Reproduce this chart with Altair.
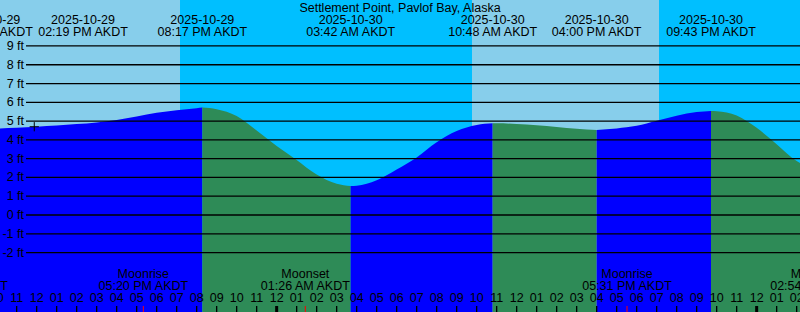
import altair as alt
import pandas as pd

# hours since 2025-10-29 12:00 PM AKDT
tide_h = [-2, -1, 0, 1, 2, 3, 4, 5, 6, 7, 8, 8.283, 9, 10, 11, 12, 13, 14, 15, 15.7,
          16, 17, 18, 19, 20, 21, 22, 22.8, 23, 24, 25, 26, 27, 28, 29, 30, 31, 32, 33,
          33.717, 34, 35, 36, 37, 38, 38.3]
tide_ft = [4.60, 4.64, 4.70, 4.76, 4.84, 4.93, 5.06, 5.24, 5.44, 5.58, 5.69, 5.72, 5.63,
           5.27, 4.50, 3.68, 2.93, 2.15, 1.66, 1.54, 1.56, 1.85, 2.42, 3.06, 3.87, 4.47,
           4.79, 4.88, 4.88, 4.85, 4.78, 4.69, 4.59, 4.53, 4.61, 4.75, 5.02, 5.29, 5.48,
           5.54, 5.53, 5.30, 4.64, 3.77, 2.87, 2.70]

# water colour changes at these high / low events
turn_h = [8.283, 15.7, 22.8, 28.0, 33.717]

# sky bands (day / night)
sky_start = [-3, 7.167, 21.767, 31.117]
sky_end = [7.167, 21.767, 31.117, 40]
sky_kind = ["day", "night", "day", "night"]

# tide event labels on top
ev_h = [-2.417, 2.317, 8.283, 15.7, 22.8, 28.0, 33.717]
ev_date = ["2025-10-29", "2025-10-29", "2025-10-29", "2025-10-30", "2025-10-30",
           "2025-10-30", "2025-10-30"]
ev_time = ["09:35 AM AKDT", "02:19 PM AKDT", "08:17 PM AKDT", "03:42 AM AKDT",
           "10:48 AM AKDT", "04:00 PM AKDT", "09:43 PM AKDT"]

# moon events
moon_h = [-3.667, 5.333, 13.433, 29.517, 38.9]
moon_kind = ["Moonset", "Moonrise", "Moonset", "Moonrise", "Moonset"]
moon_time = ["08:20 AM AKDT", "05:20 PM AKDT", "01:26 AM AKDT", "05:31 PM AKDT",
             "02:54 AM AKDT"]

ft_ticks = [9, 8, 7, 6, 5, 4, 3, 2, 1, 0, -1, -2]
hour_ticks = list(range(-2, 39))

now_h = [-0.12]
now_ft = [4.70]

title_text = "Settlement Point, Pavlof Bay, Alaska"

XD = [-1.8333, 38.1667]
YD = [-5.165, 11.448]
FONT = "Liberation Sans"
FS = 12.5

# ---- build tables ----
rows = []
bounds = [-99] + turn_h + [99]
for s in range(len(bounds) - 1):
    lo, hi = bounds[s], bounds[s + 1]
    d = "rise" if s % 2 == 0 else "fall"
    for h, f in zip(tide_h, tide_ft):
        if lo - 1e-9 <= h <= hi + 1e-9:
            rows.append({"h": h, "ft": f, "seg": f"s{s}", "kind": d})
water = pd.DataFrame(rows)

sky = pd.DataFrame({"h": sky_start, "h2": sky_end, "kind": sky_kind})
events = pd.DataFrame({"h": ev_h, "d": ev_date, "t": ev_time})
moon = pd.DataFrame({"h": moon_h, "k": moon_kind, "t": moon_time})
grid = pd.DataFrame({"ft": ft_ticks, "lab": [f"{v} ft" for v in ft_ticks]})
hrs = []
for h in hour_ticks:
    hr = (12 + h) % 24
    hrs.append({"h": h, "lab": f"{(hr % 12) or 12:02d}", "mid": bool(hr == 0)})
hours = pd.DataFrame(hrs)
now = pd.DataFrame({"h": now_h, "ft": now_ft})

xs = alt.Scale(domain=XD, nice=False, zero=False)
ys = alt.Scale(domain=YD, nice=False, zero=False)
cs = alt.Scale(domain=["day", "night", "rise", "fall"],
               range=["#87CEEB", "#00BFFF", "#0000FF", "#2E8B57"])

def X(f="h"):
    return alt.X(f"{f}:Q", scale=xs, axis=None)

def Y(f="ft"):
    return alt.Y(f"{f}:Q", scale=ys, axis=None, stack=None)

sky_l = alt.Chart(sky).mark_rect(clip=True).encode(
    x=X(), x2="h2:Q", y=alt.value(0), y2=alt.value(312),
    color=alt.Color("kind:N", scale=cs, legend=None))

water_l = alt.Chart(water).mark_area(clip=True, interpolate="monotone").encode(
    x=X(), y=Y(), y2=alt.value(312),
    color=alt.Color("kind:N", scale=cs, legend=None),
    detail="seg:N")

grid_l = alt.Chart(grid).mark_rule(color="black", strokeWidth=1.3).encode(
    x=alt.value(26), x2=alt.value(800), y=Y())

ylab_l = alt.Chart(grid).mark_text(align="right", baseline="middle", font=FONT,
                                   fontSize=FS, color="black").encode(
    x=alt.value(24), y=Y(), text="lab:N")

now_l = alt.Chart(now).mark_point(shape="M-1,0L1,0M0,-1L0,1", size=85, filled=False,
                                  color="black", strokeWidth=1, opacity=1).encode(
    x=X(), y=Y())

title_l = alt.Chart(pd.DataFrame({"t": [title_text]})).mark_text(
    align="center", baseline="middle", font=FONT, fontSize=FS, color="black").encode(
    x=alt.value(400), y=alt.value(7.5), text="t:N")

evd_l = alt.Chart(events).mark_text(align="center", baseline="middle", font=FONT,
                                    fontSize=FS, color="black").encode(
    x=X(), y=alt.value(19.5), text="d:N")
evt_l = alt.Chart(events).mark_text(align="center", baseline="middle", font=FONT,
                                    fontSize=FS, color="black").encode(
    x=X(), y=alt.value(32), text="t:N")

mk_l = alt.Chart(moon).mark_text(align="center", baseline="middle", font=FONT,
                                 fontSize=FS, color="black").encode(
    x=X(), y=alt.value(274), text="k:N")
mt_l = alt.Chart(moon).mark_text(align="center", baseline="middle", font=FONT,
                                 fontSize=FS, color="black").encode(
    x=X(), y=alt.value(286), text="t:N")

hlab_l = alt.Chart(hours).mark_text(align="center", baseline="middle", font=FONT,
                                    fontSize=FS, color="black").encode(
    x=X(), y=alt.value(298), text="lab:N")

tick_l = alt.Chart(hours).mark_rule(color="black").encode(
    x=X(), y=alt.value(306), y2=alt.value(312),
    strokeWidth=alt.condition("datum.mid", alt.value(3), alt.value(1.3)))

moon_tick_l = alt.Chart(moon).mark_rule(color="red", strokeWidth=1).encode(
    x=X(), y=alt.value(306), y2=alt.value(312))

chart = alt.layer(
    sky_l, water_l, grid_l, ylab_l, now_l, title_l, evd_l, evt_l, mk_l, mt_l,
    hlab_l, tick_l, moon_tick_l
).properties(
    width=800, height=312, padding=0, autosize=alt.AutoSizeParams(type="none")
).configure_view(stroke=None)

chart.save("out.html", embed_options={"renderer": "svg", "actions": False})
